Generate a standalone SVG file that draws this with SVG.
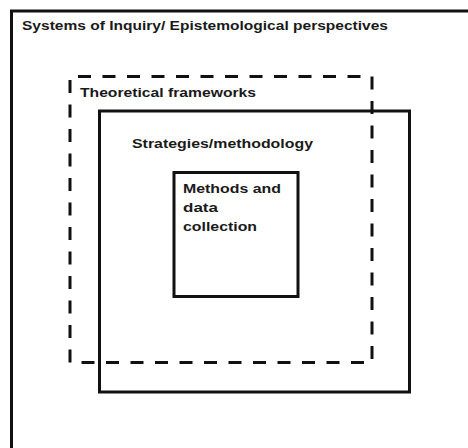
<svg xmlns="http://www.w3.org/2000/svg" width="468" height="448" viewBox="0 0 468 448">
<style>
.box{fill:none;stroke:#111;stroke-width:3}
.dash{fill:none;stroke:#111;stroke-width:3;stroke-dasharray:13 11.5}
.t{font-family:"Liberation Sans",Arial,sans-serif;font-weight:bold;font-size:13.5px;fill:#1a1a1a}
</style>
<rect width="468" height="448" fill="#fff"/>
<g id="systems">
<rect class="box" x="11.5" y="11" width="470" height="450"/>
<text class="t" x="22" y="30" textLength="366" lengthAdjust="spacingAndGlyphs">Systems of Inquiry/ Epistemological perspectives</text>
</g>
<g id="theoretical">
<rect class="dash" x="70" y="76.5" width="302" height="286" stroke-dashoffset="-8"/>
<text class="t" x="80" y="97" textLength="176" lengthAdjust="spacingAndGlyphs">Theoretical frameworks</text>
</g>
<g id="strategies">
<rect class="box" x="99.5" y="111" width="310" height="281"/>
<text class="t" x="132" y="148" textLength="181" lengthAdjust="spacingAndGlyphs">Strategies/methodology</text>
</g>
<g id="methods">
<rect class="box" x="174" y="172.5" width="124" height="124"/>
<text class="t" x="183" y="193" textLength="98" lengthAdjust="spacingAndGlyphs">Methods and</text>
<text class="t" x="183" y="212" textLength="35" lengthAdjust="spacingAndGlyphs">data</text>
<text class="t" x="183" y="231" textLength="74" lengthAdjust="spacingAndGlyphs">collection</text>
</g>
<g id="connectors"></g>
</svg>
